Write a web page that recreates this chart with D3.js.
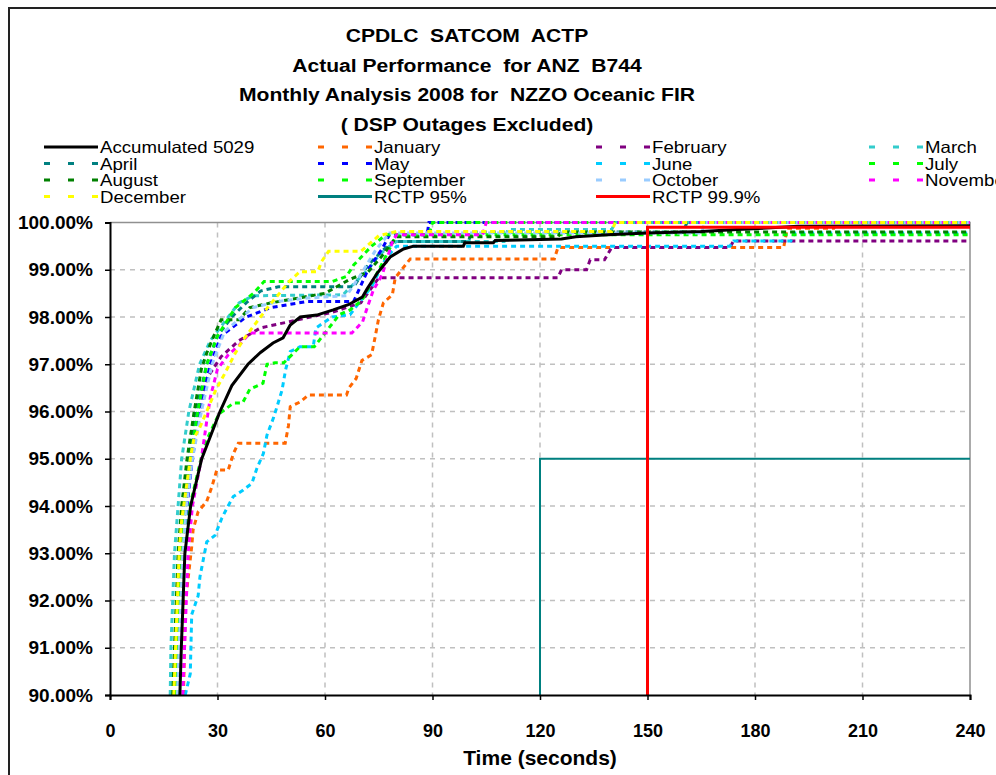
<!DOCTYPE html>
<html>
<head>
<meta charset="utf-8">
<script src="https://cdn.jsdelivr.net/npm/d3@7"></script>
<style>
  body { margin: 0; background: #fff; }
  text { font-family: "Liberation Sans", Arial, sans-serif; }
</style>
</head>
<body>
<div id="container"></div>
<script>
let w = 996;
let h = 775;

// title lines
let titleLines = [
  "CPDLC  SATCOM  ACTP",
  "Actual Performance  for ANZ  B744",
  "Monthly Analysis 2008 for  NZZO Oceanic FIR",
  "( DSP Outages Excluded)"
];

let xTicks = [0, 30, 60, 90, 120, 150, 180, 210, 240];
let yTicks = [90, 91, 92, 93, 94, 95, 96, 97, 98, 99, 100];

// [seconds, percent]
let accumulated = [[19.5,90],[19.9,91],[20.4,92],[20.9,93],[22.5,94],[25.6,95],[30.7,96],[34,96.55],[38.5,97],[42,97.25],[45.5,97.45],[48.3,97.56],[50.3,97.83],[53.1,98],[57.7,98.04],[62.3,98.15],[66.5,98.26],[70.4,98.42],[71.8,98.6],[74.6,98.93],[78.2,99.27],[81.9,99.44],[84.7,99.5],[98.6,99.5],[99,99.57],[107,99.57],[107.5,99.62],[126,99.65],[130,99.7],[139,99.74],[150,99.78],[165,99.81],[175,99.85],[192,99.92],[240,99.93]];
let january = [[20.5,90],[20.8,91],[21,91.94],[22,92.6],[22.8,93.14],[23.2,93.5],[24.6,93.88],[27,94.1],[28.4,94.4],[29.8,94.76],[33,94.76],[34.4,95.1],[35.8,95.33],[48.9,95.33],[49.8,95.7],[50.3,96.1],[53,96.2],[55.4,96.35],[66,96.35],[66.7,96.5],[68.7,96.7],[70.3,97.08],[73,97.2],[74,97.58],[74.9,97.94],[76.3,98.3],[78.8,98.47],[79.6,98.83],[83.8,99.23],[124,99.23],[125,99.47],[188,99.47],[189,99.88],[202,99.88],[203,100],[240,100]];
let february = [[18.7,90],[19.2,91],[19.7,92],[20.2,93],[21,94],[22.5,95],[24.5,96],[27,96.7],[31,97.16],[36,97.5],[42,97.77],[50,97.9],[62,98.1],[70,98.3],[75,98.83],[125,98.83],[126,99],[133,99],[134,99.21],[138,99.21],[140,99.47],[173,99.47],[174,99.61],[240,99.61]];
let march = [[16.8,90],[17,91],[17.5,92],[18,93],[19,94],[20,95],[22,96],[25,97],[28,97.5],[33,98],[36,98.3],[40,98.45],[65,98.47],[68,98.7],[72,99],[75,99.3],[78,99.5],[80,99.6],[110,99.6],[111,99.85],[140,99.85],[141,100],[240,100]];
let april = [[18,90],[18.5,91],[19,92],[19.5,93],[20.5,94],[22,95],[24,96],[27,97],[30,97.6],[34,98],[38,98.3],[42,98.55],[47,98.64],[68,98.64],[72,99.1],[76,99.4],[79,99.6],[100,99.6],[101,99.8],[160,99.8],[161,100],[240,100]];
let may = [[19,90],[19.5,91],[20,92],[20.5,93],[21.5,94],[23,95],[25,96],[28,97],[31,97.6],[38,98],[45,98.2],[55,98.33],[68,98.33],[72,99],[76,99.45],[78,99.74],[88.5,99.74],[89,100],[240,100]];
let june = [[21,90],[22.4,90.45],[22.8,91.7],[24.6,92.1],[25.1,92.5],[27,93.24],[29.3,93.38],[31.2,93.74],[32.6,93.95],[34.4,94.2],[37.2,94.34],[39.6,94.48],[41,94.8],[42.8,95.11],[43.8,95.5],[45.6,95.86],[46.6,96.1],[48,96.45],[49,96.88],[50.3,97.27],[53,97.37],[56.7,97.37],[57.5,97.77],[62,98],[67,98.05],[70,98.35],[73,98.64],[77,99.25],[80,99.5],[173,99.5],[174,99.61],[190,99.61],[191,99.78],[240,99.78]];
let july = [[19.2,90],[19.7,91],[20.2,92],[20.7,93],[22.3,94],[25.4,95],[27,95.4],[30.4,95.95],[34.5,96.18],[37,96.18],[39,96.47],[42.7,96.6],[43.8,97],[46,97.03],[48.5,97.03],[53,97.37],[57,97.37],[64,98.05],[67,98.15],[70.4,98.36],[71.8,98.57],[73.5,98.78],[76,99.14],[80,99.74],[240,99.74]];
let august = [[17.5,90],[18,91],[18.5,92],[19,93],[20,94],[21.5,95],[23.5,96],[25.5,96.9],[27,97.24],[29,97.6],[31,97.94],[36,97.94],[39,98.2],[45,98.3],[60,98.5],[67,98.8],[72,98.95],[76,99.3],[80,99.7],[125,99.7],[126,99.8],[240,99.8]];
let september = [[18.5,90],[19,91],[19.5,92],[20,93],[21,94],[22.5,95],[24.5,96],[27,97],[30,97.6],[35,98.2],[40,98.5],[43,98.75],[62,98.75],[66,98.86],[68,99.1],[73,99.5],[77,99.74],[89,99.74],[90,100],[240,100]];
let october = [[18.8,90],[19.3,91],[19.8,92],[20.3,93],[21.3,94],[23,95],[25.5,96],[28.5,97],[32,97.7],[40,98.2],[47,98.33],[55,98.4],[66,98.45],[70,98.9],[74,99.4],[78,99.78],[165,99.78],[166,100],[240,100]];
let november = [[20.3,90],[20.8,91],[21.3,92],[21.8,93],[23,94],[25.5,95],[27,95.8],[28,96.3],[30,96.9],[33,97.2],[36,97.4],[39,97.66],[67.5,97.66],[70.5,97.9],[71.8,98.2],[73.5,98.57],[76,98.9],[78,99.4],[79,99.63],[80,99.74],[104,99.74],[105,100],[240,100]];
let december = [[17.8,90],[18.3,91],[18.8,92],[19.3,93],[20,93.7],[21.5,94.5],[22.5,95.05],[23.5,95.45],[25,95.65],[29.5,96.45],[32,96.8],[35,97.24],[37,97.5],[40,97.8],[44,98.2],[50,98.75],[53,98.96],[58,98.96],[59,99.17],[61,99.39],[70,99.39],[75,99.72],[80,99.81],[140,99.81],[141,100],[240,100]];
let rctp95 = [[120,90],[120,95],[240,95]];
let rctp999 = [[150,90],[150,99.9],[240,99.9]];

let monthNames = ["January","February","March","April","May","June","July","August","September","October","November","December"];
let monthData = [january, february, march, april, may, june, july, august, september, october, november, december];
let monthColors = ["#FF6600","#800080","#33CCCC","#008080","#0000FF","#00CCFF","#00FF00","#008000","#00FF00","#99CCFF","#FF00FF","#FFFF00"];

let viz = d3.select("#container")
  .append("svg")
  .attr("width", w)
  .attr("height", h)
  .style("background-color", "white");

// chart frame
viz.append("rect")
  .attr("x", 9).attr("y", 8)
  .attr("width", w + 20).attr("height", h + 20)
  .attr("fill", "none")
  .attr("stroke", "#222")
  .attr("stroke-width", 2);

let xScale = d3.scaleLinear().domain([0, 240]).range([110, 970]);
let yScale = d3.scaleLinear().domain([90, 100]).range([695, 222.5]);

// title (the original text is a little stretched sideways)
viz.selectAll(".title").data(titleLines).enter()
  .append("g")
  .attr("class", "title")
  .attr("transform", (d, i) => "translate(467," + (42 + i * 29.5) + ") scale(1.11,1)")
  .append("text")
  .attr("text-anchor", "middle")
  .attr("font-size", 19)
  .attr("font-weight", "bold")
  .attr("xml:space", "preserve")
  .style("white-space", "pre")
  .text(d => d);

// grid
let grid = viz.append("g").attr("class", "grid");
grid.selectAll(".vgrid").data(xTicks.slice(1, -1)).enter()
  .append("line")
  .attr("x1", d => xScale(d)).attr("x2", d => xScale(d))
  .attr("y1", yScale(100)).attr("y2", yScale(90))
  .attr("stroke", "#c0c0c0").attr("stroke-width", 1.5)
  .attr("stroke-dasharray", "5,5");
grid.selectAll(".hgrid").data(yTicks.slice(1, -1)).enter()
  .append("line")
  .attr("x1", xScale(0)).attr("x2", xScale(240))
  .attr("y1", d => yScale(d)).attr("y2", d => yScale(d))
  .attr("stroke", "#c0c0c0").attr("stroke-width", 1.5)
  .attr("stroke-dasharray", "5,5");

// plot border (top / right)
viz.append("path")
  .attr("d", "M" + xScale(0) + "," + yScale(100) + "H" + xScale(240) + "V" + yScale(90))
  .attr("fill", "none")
  .attr("stroke", "#909090")
  .attr("stroke-width", 1.5);

let line = d3.line().x(d => xScale(d[0])).y(d => yScale(d[1]));

// monthly series
viz.append("g").selectAll(".month").data(monthData).enter()
  .append("path")
  .attr("class", "month")
  .attr("d", line)
  .attr("fill", "none")
  .attr("stroke", (d, i) => monthColors[i])
  .attr("stroke-width", 3)
  .attr("stroke-dasharray", "5,4");

viz.append("path").datum(accumulated)
  .attr("d", line)
  .attr("fill", "none").attr("stroke", "black").attr("stroke-width", 3);

viz.append("path").datum(rctp95)
  .attr("d", line)
  .attr("fill", "none").attr("stroke", "#008080").attr("stroke-width", 2);

viz.append("path").datum(rctp999)
  .attr("d", line)
  .attr("fill", "none").attr("stroke", "#FF0000").attr("stroke-width", 3);

// axes
let xAxis = d3.axisBottom(xScale).tickValues(xTicks).tickSize(5).tickFormat(d3.format("d"));
let xAxisGroup = viz.append("g").attr("class", "xaxis")
  .attr("transform", "translate(0," + yScale(90) + ")")
  .call(xAxis);
let yAxis = d3.axisLeft(yScale).tickValues(yTicks).tickSize(5).tickFormat(d => d.toFixed(2) + "%");
let yAxisGroup = viz.append("g").attr("class", "yaxis")
  .attr("transform", "translate(" + xScale(0) + ",0)")
  .call(yAxis);

[xAxisGroup, yAxisGroup].forEach(g => {
  g.select(".domain").attr("stroke", "black").attr("stroke-width", 2);
  g.selectAll(".tick line").attr("stroke", "black").attr("stroke-width", 1.5);
  g.selectAll(".tick text")
    .attr("font-family", "'Liberation Sans', Arial, sans-serif")
    .attr("font-size", 18)
    .attr("font-weight", "bold")
    .attr("fill", "black");
});
xAxisGroup.selectAll(".tick text").attr("dy", "1.9em");
yAxisGroup.selectAll(".tick text").attr("x", -17).attr("font-size", 19);

viz.append("text")
  .attr("x", 540).attr("y", 765)
  .attr("text-anchor", "middle")
  .attr("font-size", 21)
  .attr("font-weight", "bold")
  .text("Time (seconds)");

// legend
let legendItems = [{name: "Accumulated 5029", color: "black", dash: null}];
monthNames.forEach((m, i) => legendItems.push({name: m, color: monthColors[i], dash: "6,18"}));
legendItems.push({name: "RCTP 95%", color: "#008080", dash: null});
legendItems.push({name: "RCTP 99.9%", color: "#FF0000", dash: null});

let colX = [44, 318, 596, 869];
let rowY = [147, 163.5, 180, 196.5];

let legend = viz.selectAll(".legendItem").data(legendItems).enter()
  .append("g")
  .attr("class", "legendItem")
  .attr("transform", (d, i) => "translate(" + colX[i % 4] + "," + rowY[Math.floor(i / 4)] + ")");

legend.append("line")
  .attr("x1", 0).attr("x2", 54)
  .attr("stroke", d => d.color)
  .attr("stroke-width", 3)
  .attr("stroke-dasharray", d => d.dash);

legend.append("g")
  .attr("transform", "translate(56,6) scale(1.13,1)")
  .append("text")
  .attr("font-size", 16.5)
  .text(d => d.name);
</script>
</body>
</html>
